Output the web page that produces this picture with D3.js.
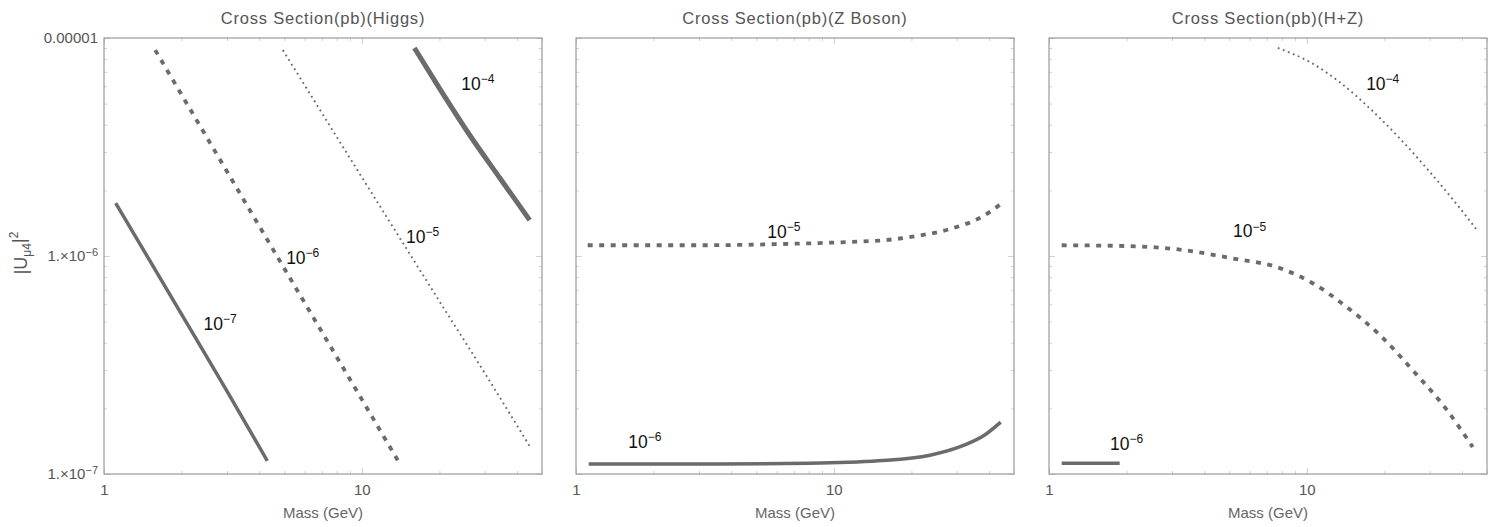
<!DOCTYPE html>
<html>
<head>
<meta charset="utf-8">
<script src="https://cdn.jsdelivr.net/npm/d3@7"></script>
<style>
  body { margin: 0; background: #fff; }
  text { font-family: "Liberation Sans", Arial, sans-serif; }
</style>
</head>
<body>
<svg id="chart" width="1498" height="527"></svg>
<script>
// titles and ticks
var panelTitles = ["Cross Section(pb)(Higgs)", "Cross Section(pb)(Z Boson)", "Cross Section(pb)(H+Z)"];
var massTicks = [1, 10];
var massMinor = [2, 3, 4, 5, 6, 7, 8, 9, 20, 30, 40, 50];
var uTicks = [1e-5, 1e-6, 1e-7];
var uTickBase = ["0.00001", "1.\u00d710", "1.\u00d710"];
var uTickExp = ["", "\u22126", "\u22127"];
var uMinor = [2e-7, 3e-7, 4e-7, 5e-7, 6e-7, 7e-7, 8e-7, 9e-7, 2e-6, 3e-6, 4e-6, 5e-6, 6e-6, 7e-6, 8e-6, 9e-6];

// Higgs contours (mass GeV, |U|^2)
var higgsLevels = ["\u22127", "\u22126", "\u22125", "\u22124"];
var higgsMass = [[1.11, 2, 3, 4.3], [1.58, 3, 6, 10, 14], [4.94, 10, 20, 30, 44.8], [16, 20.1, 26.2, 34.3, 44.8]];
var higgsU = [[1.75e-6, 5.4e-7, 2.4e-7, 1.15e-7], [8.8e-6, 2.44e-6, 6.1e-7, 2.2e-7, 1.12e-7],
              [8.8e-6, 2.3e-6, 6.2e-7, 2.9e-7, 1.34e-7], [9.0e-6, 5.83e-6, 3.59e-6, 2.28e-6, 1.46e-6]];
var higgsLabelMass = [2.82, 5.9, 17.2, 28.2];
var higgsLabelU = [4.6e-7, 9.2e-7, 1.15e-6, 5.8e-6];

// Z boson contours
var zLevels = ["\u22126", "\u22125"];
var zMass = [[1.12, 3, 8.07, 14.9, 23.6, 32.2, 38.5, 44.4],
             [1.11, 3.02, 6.34, 11.5, 15.5, 21.0, 28.2, 37.8, 44.4]];
var zU = [[1.11e-7, 1.11e-7, 1.12e-7, 1.15e-7, 1.22e-7, 1.36e-7, 1.51e-7, 1.73e-7],
          [1.12e-6, 1.12e-6, 1.135e-6, 1.16e-6, 1.18e-6, 1.235e-6, 1.33e-6, 1.52e-6, 1.73e-6]];
var zLabelMass = [1.85, 6.4];
var zLabelU = [1.32e-7, 1.21e-6];

// H+Z contours
var hzLevels = ["\u22126", "\u22125", "\u22124"];
var hzMass = [[1.12, 1.88], [1.12, 2.06, 3.22, 5.03, 7.86, 10.5, 14.3, 19.2, 25.7, 34.9, 44.0],
              [7.72, 10.27, 13.4, 17.5, 22.9, 30.0, 39.2, 45.6]];
var hzU = [[1.12e-7, 1.12e-7], [1.12e-6, 1.11e-6, 1.07e-6, 9.8e-7, 8.8e-7, 7.52e-7, 5.83e-7, 4.34e-7, 3.0e-7, 1.97e-7, 1.33e-7],
           [9.0e-6, 7.76e-6, 6.28e-6, 4.77e-6, 3.47e-6, 2.43e-6, 1.66e-6, 1.32e-6]];
var hzLabelMass = [2.0, 6.0, 19.7];
var hzLabelU = [1.29e-7, 1.22e-6, 5.8e-6];

var panels = [
  {levels: higgsLevels, mass: higgsMass, u: higgsU, lm: higgsLabelMass, lu: higgsLabelU, styles: ["solid", "dashed", "dotted", "thick"]},
  {levels: zLevels, mass: zMass, u: zU, lm: zLabelMass, lu: zLabelU, styles: ["solid", "dashed"]},
  {levels: hzLevels, mass: hzMass, u: hzU, lm: hzLabelMass, lu: hzLabelU, styles: ["solid", "dashed", "dotted"]}
];

var lineColor = "#6b6b6b";
var frameColor = "#9a9a9a";
var tickText = "#555";
var styleMap = {
  solid:  {w: 3.5, dash: null},
  thick:  {w: 5, dash: null},
  dashed: {w: 3.8, dash: "5,6.5"},
  dotted: {w: 1.9, dash: "1.8,3.6"}
};

var lefts = [104, 576, 1049];
var plotW = 438, plotTop = 38, plotBottom = 474;

var svg = d3.select("#chart");

panels.forEach(function(p, pi) {
  var x = d3.scaleLog().domain([1, 50]).range([lefts[pi], lefts[pi] + plotW]);
  var y = d3.scaleLog().domain([1e-7, 1e-5]).range([plotBottom, plotTop]);
  var g = svg.append("g");

  // clip
  var clipId = "clip" + pi;
  svg.append("clipPath").attr("id", clipId).append("rect")
    .attr("x", lefts[pi]).attr("y", plotTop).attr("width", plotW).attr("height", plotBottom - plotTop);

  // minor + major ticks on all four sides
  function tickAxis(axis, vals, size, tr) {
    var a = g.append("g").attr("transform", tr)
      .call(axis.tickValues(vals).tickSize(-size).tickFormat(""));
    a.select(".domain").remove();
    a.selectAll("line").attr("stroke", "#c4c4c4").attr("stroke-width", 0.8);
    return a;
  }
  tickAxis(d3.axisBottom(x), massMinor, 3, "translate(0," + plotBottom + ")");
  tickAxis(d3.axisTop(x), massMinor, 3, "translate(0," + plotTop + ")");
  tickAxis(d3.axisTop(x), massTicks, 6, "translate(0," + plotTop + ")");
  tickAxis(d3.axisLeft(y), uMinor, 3, "translate(" + lefts[pi] + ",0)");
  tickAxis(d3.axisRight(y), uMinor, 3, "translate(" + (lefts[pi] + plotW) + ",0)");
  tickAxis(d3.axisRight(y), uTicks, 6, "translate(" + (lefts[pi] + plotW) + ",0)");

  // bottom axis with labels
  var xa = g.append("g").attr("transform", "translate(0," + plotBottom + ")")
    .call(d3.axisBottom(x).tickValues(massTicks).tickSize(-6).tickPadding(10).tickFormat(d3.format("d")));
  xa.select(".domain").remove();
  xa.selectAll("line").attr("stroke", "#c4c4c4").attr("stroke-width", 0.8);
  xa.selectAll("text").attr("fill", tickText).style("font-size", "15px")
    .style("font-family", "'Liberation Sans', Arial, sans-serif");

  // left axis
  var ya = g.append("g").attr("transform", "translate(" + lefts[pi] + ",0)")
    .call(d3.axisLeft(y).tickValues(uTicks).tickSize(-6).tickPadding(6).tickFormat(""));
  ya.select(".domain").remove();
  ya.selectAll("line").attr("stroke", "#c4c4c4").attr("stroke-width", 0.8);
  if (pi === 0) {
    ya.selectAll(".tick text").each(function(d, i) {
      var t = d3.select(this).attr("fill", tickText).style("font-size", "15px")
        .style("font-family", "'Liberation Sans', Arial, sans-serif");
      t.text(null);
      t.append("tspan").text(uTickBase[i]);
      if (uTickExp[i]) t.append("tspan").attr("dy", "-0.5em").style("font-size", "11px").text(uTickExp[i]);
    });
  }

  // frame
  g.append("rect").attr("x", lefts[pi]).attr("y", plotTop).attr("width", plotW).attr("height", plotBottom - plotTop)
    .attr("fill", "none").attr("stroke", frameColor).attr("stroke-width", 1.2);

  // title
  g.append("text").attr("x", lefts[pi] + plotW / 2).attr("y", 24).attr("text-anchor", "middle")
    .attr("fill", tickText).style("font-size", "16.5px").style("letter-spacing", "0.8px").text(panelTitles[pi]);

  // x label
  g.append("text").attr("x", lefts[pi] + plotW / 2).attr("y", 518).attr("text-anchor", "middle")
    .attr("fill", "#666").style("font-size", "15px").text("Mass (GeV)");

  // contours
  var line = d3.line().x(function(d) { return x(d[0]); }).y(function(d) { return y(d[1]); })
    .curve(d3.curveMonotoneX);
  var cg = g.append("g").attr("clip-path", "url(#" + clipId + ")");
  p.levels.forEach(function(lev, li) {
    var pts = p.mass[li].map(function(m, k) { return [m, p.u[li][k]]; });
    var st = styleMap[p.styles[li]];
    cg.append("path").datum(pts).attr("d", line)
      .attr("fill", "none").attr("stroke", lineColor).attr("stroke-width", st.w)
      .attr("stroke-dasharray", st.dash);

    var lab = g.append("text").attr("x", x(p.lm[li])).attr("y", y(p.lu[li]))
      .attr("text-anchor", "middle").attr("fill", "#111").style("font-size", "17.5px");
    lab.append("tspan").text("10");
    lab.append("tspan").attr("dy", "-0.55em").style("font-size", "12px").text(lev);
  });
});

// y axis title |U_{mu4}|^2
var yl = svg.append("text").attr("transform", "translate(27,253) rotate(-90)")
  .attr("text-anchor", "middle").attr("fill", tickText).style("font-size", "18px");
yl.append("tspan").text("|U");
yl.append("tspan").attr("dy", "0.3em").style("font-size", "12px").text("\u03bc4");
yl.append("tspan").attr("dy", "-0.3em").text("|");
yl.append("tspan").attr("dy", "-0.6em").style("font-size", "12px").text("2");
</script>
</body>
</html>
